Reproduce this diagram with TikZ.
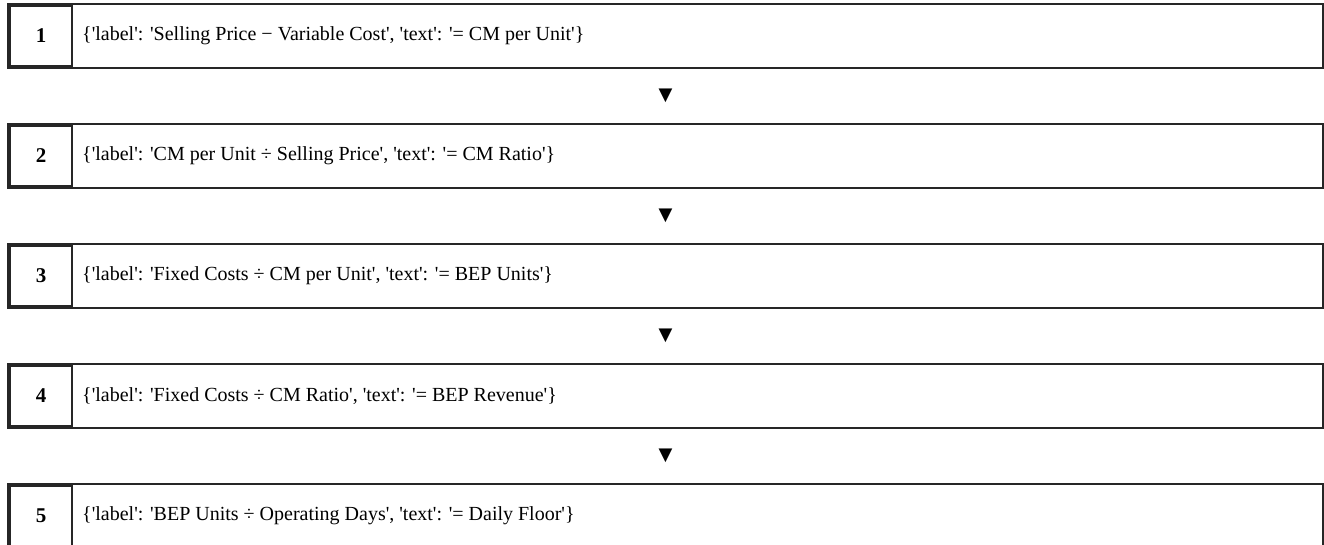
\documentclass[tikz,border=0pt]{standalone}
\usepackage{fontspec}
\newfontfamily\plainrm{Liberation Serif}
\newfontfamily\symfont{DejaVu Sans}
\usetikzlibrary{calc,positioning}

\begin{document}
\begin{tikzpicture}[x=1pt,y=1pt,
  rowbox/.style={draw=black!85,line width=1.8pt,minimum width=1315pt,
                 minimum height=64pt,inner sep=0pt},
  numbox/.style={draw=black!85,line width=1.3pt,minimum width=62pt,
                 minimum height=60pt,inner sep=0pt,
                 font=\plainrm\fontsize{21}{24}\selectfont\bfseries},
  txt/.style={anchor=west,inner sep=0pt,
              font=\plainrm\fontsize{20}{24}\selectfont},
  tri/.style={inner sep=0pt,font=\symfont\fontsize{18}{20}\selectfont}]
  \useasboundingbox (0,0) rectangle (1324,-544);

  \node[rowbox] (r1) at (665.5,-36)  {};
  \node[numbox] (n1) at (41,-36)     {1};
  \node[txt]    (t1) at (82,-36)     {\{'label': 'Selling Price − Variable Cost', 'text': '= CM per Unit'\}};

  \node[rowbox] (r2) at (665.5,-156) {};
  \node[numbox] (n2) at (41,-156)    {2};
  \node[txt]    (t2) at (82,-156)    {\{'label': 'CM per Unit ÷ Selling Price', 'text': '= CM Ratio'\}};

  \node[rowbox] (r3) at (665.5,-276) {};
  \node[numbox] (n3) at (41,-276)    {3};
  \node[txt]    (t3) at (82,-276)    {\{'label': 'Fixed Costs ÷ CM per Unit', 'text': '= BEP Units'\}};

  \node[rowbox] (r4) at (665.5,-396) {};
  \node[numbox] (n4) at (41,-396)    {4};
  \node[txt]    (t4) at (82,-396)    {\{'label': 'Fixed Costs ÷ CM Ratio', 'text': '= BEP Revenue'\}};

  \node[rowbox] (r5) at (665.5,-516) {};
  \node[numbox] (n5) at (41,-516)    {5};
  \node[txt]    (t5) at (82,-516)    {\{'label': 'BEP Units ÷ Operating Days', 'text': '= Daily Floor'\}};

  % steps between rows
  \node[tri] (a1) at ($(r1.south)!0.5!(r2.north)$) {▼};
  \node[tri] (a2) at ($(r2.south)!0.5!(r3.north)$) {▼};
  \node[tri] (a3) at ($(r3.south)!0.5!(r4.north)$) {▼};
  \node[tri] (a4) at ($(r4.south)!0.5!(r5.north)$) {▼};
\end{tikzpicture}
\end{document}
